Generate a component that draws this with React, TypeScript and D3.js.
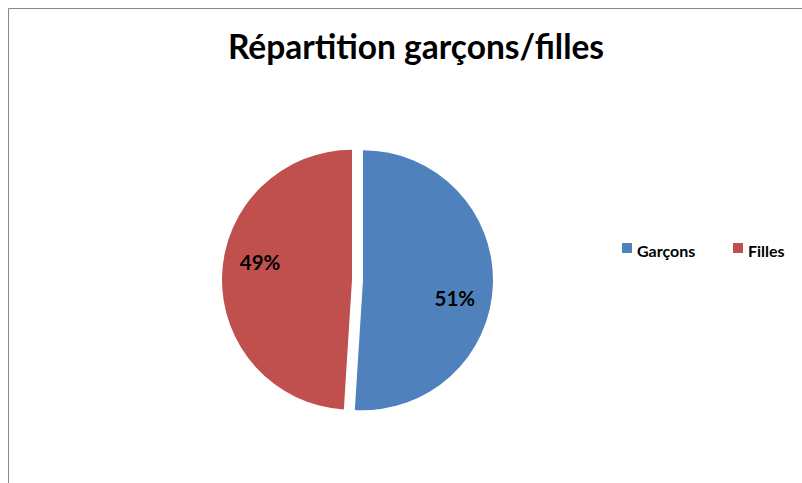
import React from "react";
import * as d3 from "d3";

const categories = ["Garçons", "Filles"];
const values = [51, 49];
const colors = ["#4F81BD", "#C0504D"];
const title = "Répartition garçons/filles";

const W = 802;
const H = 483;

export default function App() {
  const cx = 357.5;
  const cy = 280;
  const r = 130;
  const explode = 5.5;
  const pie = d3.pie<number>().sort(null).value((d) => d)(values);
  const arc = d3.arc<d3.PieArcDatum<number>>().innerRadius(0).outerRadius(r);
  const total = d3.sum(values);
  const labelR = r * 0.72;
  const labelShift = 0.16;
  const font = "Lato, Carlito, Calibri, sans-serif";
  return (
    <svg
      width={W}
      height={H}
      style={{ position: "absolute", left: 0, top: 0, display: "block" }}
    >
      <rect x={0} y={0} width={W} height={H} fill="#fff" />
      <line x1={8.5} y1={8.5} x2={W} y2={8.5} stroke="#888" strokeWidth={1} />
      <line x1={8.5} y1={8.5} x2={8.5} y2={H} stroke="#888" strokeWidth={1} />
      <text
        x={416}
        y={59}
        textAnchor="middle"
        fontFamily={font}
        fontWeight="bold"
        fontSize={33.5}
        fill="#000"
      >
        {title}
      </text>
      <g transform={`translate(${cx},${cy})`}>
        {pie.map((p, i) => {
          const mid = (p.startAngle + p.endAngle) / 2;
          const dx = Math.sin(mid) * explode;
          const dy = -Math.cos(mid) * explode;
          const la = mid + labelShift;
          const lx = Math.sin(la) * labelR;
          const ly = -Math.cos(la) * labelR;
          return (
            <g key={i} transform={`translate(${dx},${dy})`}>
              <path d={arc(p) || ""} fill={colors[i]} />
              <text
                x={lx}
                y={ly}
                textAnchor="middle"
                dominantBaseline="central"
                fontFamily={font}
                fontWeight="bold"
                fontSize={20.5}
                fill="#000"
              >
                {Math.round((values[i] / total) * 100) + "%"}
              </text>
            </g>
          );
        })}
      </g>
      {categories.map((c, i) => {
        const x0 = i === 0 ? 622 : 733;
        return (
          <g key={c}>
            <rect x={x0} y={243} width={10} height={10} fill={colors[i]} />
            <text
              x={x0 + 15}
              y={257}
              fontFamily={font}
              fontWeight="bold"
              fontSize={16}
              fill="#000"
            >
              {c}
            </text>
          </g>
        );
      })}
    </svg>
  );
}
